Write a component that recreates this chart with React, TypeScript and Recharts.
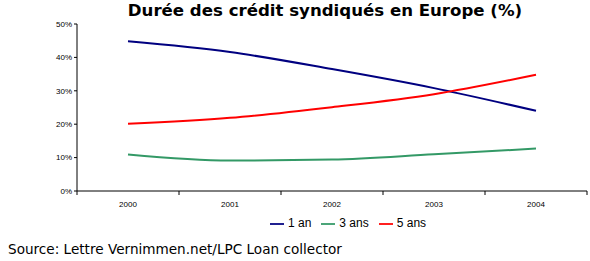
import { Legend, Line, LineChart, XAxis, YAxis } from 'recharts';

const years = ['2000', '2001', '2002', '2003', '2004'];
const oneYear = [44.8, 41.6, 36.5, 30.8, 24.0];
const threeYears = [10.9, 9.1, 9.4, 11.0, 12.7];
const fiveYears = [20.1, 21.9, 25.1, 29.0, 34.8];
const yTicks = [0, 10, 20, 30, 40, 50];

const series = [
  { key: 'oneYear', name: '1 an', color: '#000080' },
  { key: 'threeYears', name: '3 ans', color: '#339966' },
  { key: 'fiveYears', name: '5 ans', color: '#ff0000' },
];

const data = years.map((year, i) => ({
  year,
  oneYear: oneYear[i],
  threeYears: threeYears[i],
  fiveYears: fiveYears[i],
}));

const smallFont = '"Liberation Sans", Arial, sans-serif';

// Excel-style category axis: tick marks sit on the band boundaries, labels in the middle
function YearTick(props: any) {
  const { x, y, payload, index } = props;
  const half = payload.offset ?? 51;
  const last = index === years.length - 1;
  return (
    <g>
      <line x1={x - half} y1={y - 8} x2={x - half} y2={y - 4} stroke="#000" />
      {last && <line x1={x + half} y1={y - 8} x2={x + half} y2={y - 4} stroke="#000" />}
      <text x={x} y={y + 8} textAnchor="middle" fontSize={8} fontFamily={smallFont} fill="#000">
        {payload.value}
      </text>
    </g>
  );
}

export default function App() {
  return (
    <div style={{ position: 'absolute', left: 0, top: 0, width: 590, height: 261, background: '#fff' }}>
      <div
        style={{
          position: 'absolute',
          left: 0,
          top: 1,
          width: 650,
          textAlign: 'center',
          fontFamily: '"DejaVu Sans", Verdana, sans-serif',
          fontWeight: 'bold',
          fontSize: 16.6,
          color: '#000',
        }}
      >
        Durée des crédit syndiqués en Europe (%)
      </div>

      <LineChart width={590} height={261} data={data} margin={{ top: 24, right: 3, bottom: 40, left: 0 }}>
        <XAxis
          dataKey="year"
          scale="band"
          height={30}
          axisLine={{ stroke: '#000' }}
          tickLine={false}
          tick={<YearTick />}
          interval={0}
        />
        <YAxis
          width={77}
          domain={[0, 50]}
          ticks={yTicks}
          tickFormatter={(v) => `${v}%`}
          axisLine={{ stroke: '#000' }}
          tickLine={{ stroke: '#000' }}
          tickSize={3}
          tick={{ fontSize: 8, fontFamily: smallFont, fill: '#000' }}
        />
        <Legend
          layout="horizontal"
          verticalAlign="middle"
          align="center"
          iconType="plainline"
          iconSize={14}
          wrapperStyle={{ top: 216, left: 270, width: 'auto', fontFamily: smallFont, fontSize: 12 }}
          formatter={(value) => <span style={{ color: '#000' }}>{value}</span>}
        />
        {series.map((s) => (
          <Line
            key={s.key}
            type="monotone"
            dataKey={s.key}
            name={s.name}
            stroke={s.color}
            strokeWidth={2}
            dot={false}
            activeDot={false}
            isAnimationActive={false}
          />
        ))}
      </LineChart>

      <div
        style={{
          position: 'absolute',
          left: 8,
          top: 241,
          fontFamily: '"DejaVu Sans", Verdana, sans-serif',
          fontSize: 13.6,
          color: '#000',
          whiteSpace: 'nowrap',
        }}
      >
        Source: Lettre Vernimmen.net/LPC Loan collector
      </div>
    </div>
  );
}
